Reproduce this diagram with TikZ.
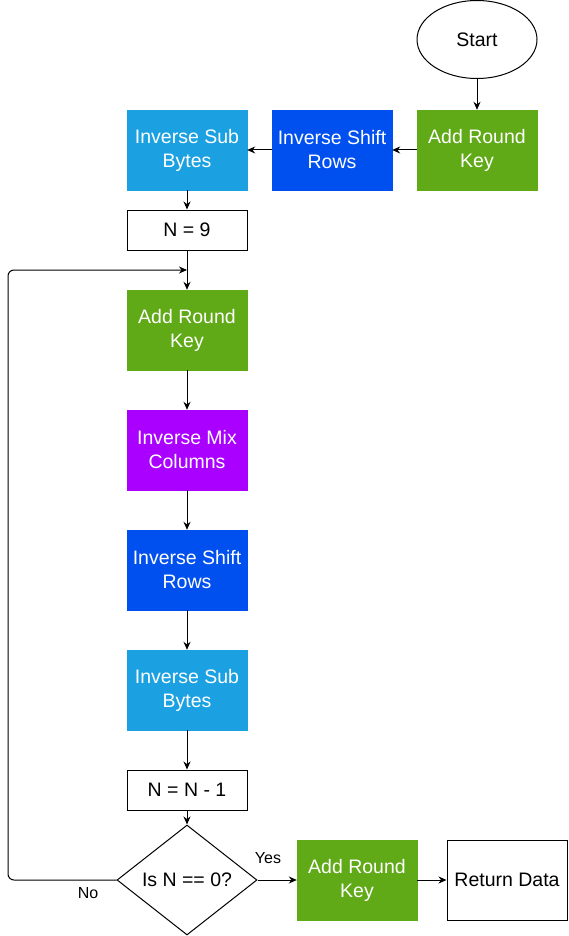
\documentclass[tikz,border=0pt]{standalone}
\usepackage{fontspec}
\setmainfont{Liberation Sans}
\usetikzlibrary{shapes.geometric,arrows.meta}
\definecolor{cgreen}{HTML}{60A917}
\definecolor{cblue}{HTML}{0050EF}
\definecolor{clblue}{HTML}{1BA1E2}
\definecolor{cpurple}{HTML}{AA00FF}
\tikzset{
  box/.style={rectangle, minimum width=120pt, minimum height=80pt, inner sep=0pt, align=center, font=\fontsize{19.5}{24}\selectfont},
  cbox/.style={box, fill=#1, draw=#1, text=white},
  wbox/.style={box, draw=black, fill=white, line width=1pt, minimum height=40pt},
  arr/.style={-{Stealth[length=8pt,width=7pt]}, line width=1pt, black},
  lbl/.style={font=\fontsize{16}{19}\selectfont, inner sep=0pt}
}
\begin{document}
\begin{tikzpicture}[x=1pt,y=-1pt]
\useasboundingbox (0,0) rectangle (568,936);
\fill[white] (0,0) rectangle (568,936);
\node[ellipse, draw, line width=1pt, minimum width=120pt, minimum height=78pt, inner sep=0pt, font=\fontsize{19.5}{24}\selectfont] (start) at (477,39.5) {Start};
\node[cbox=cgreen] (ark1) at (477,150) {Add Round\\Key};
\node[cbox=cblue] (isr1) at (332,150) {Inverse Shift\\Rows};
\node[cbox=clblue] (isb1) at (187,150) {Inverse Sub\\Bytes};
\node[wbox] (n9) at (187,230) {N = 9};
\node[cbox=cgreen] (ark2) at (187,330) {Add Round\\Key};
\node[cbox=cpurple] (imc) at (187,450) {Inverse Mix\\Columns};
\node[cbox=cblue] (isr2) at (187,570) {Inverse Shift\\Rows};
\node[cbox=clblue] (isb2) at (187,690) {Inverse Sub\\Bytes};
\node[wbox] (nn1) at (187,790) {N = N - 1};
\node[diamond, draw, line width=1pt, fill=white, minimum width=140pt, minimum height=110pt, inner sep=0pt,
  label={[font=\fontsize{19.5}{24}\selectfont]center:Is N == 0?}] (dia) at (187,880) {};
\node[cbox=cgreen] (ark3) at (357,880) {Add Round\\Key};
\node[wbox, minimum height=80pt] (ret) at (507,880) {Return Data};
\coordinate (lb) at (8,880);
\coordinate (lt) at (8,270);
\coordinate (mrg) at (187,270);
\draw[arr] (start) -- (ark1);
\draw[arr] (ark1) -- (isr1);
\draw[arr] (isr1) -- (isb1);
\draw[arr] (isb1) -- (n9);
\draw[arr] (n9) -- (ark2);
\draw[arr] (ark2) -- (imc);
\draw[arr] (imc) -- (isr2);
\draw[arr] (isr2) -- (isb2);
\draw[arr] (isb2) -- (nn1);
\draw[arr] (nn1) -- (dia);
\draw[arr] (dia.east) -- (ark3.west);
\draw[arr] (ark3) -- (ret);
\draw[arr, rounded corners=6pt] (dia.west) -- (lb) -- (lt) -- (mrg);
\node[lbl] (no) at (88,893) {No};
\node[lbl] (yes) at (268,858) {Yes};
\end{tikzpicture}
\end{document}
